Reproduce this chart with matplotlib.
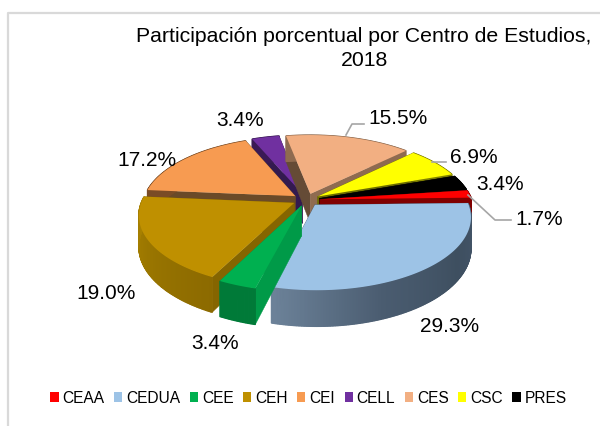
import numpy as np
import matplotlib
matplotlib.use("Agg")
import matplotlib.pyplot as plt
from matplotlib.patches import Patch
from matplotlib.colors import to_rgb

plt.rcParams['font.family'] = ['Liberation Sans', 'DejaVu Sans']

# ---- data ----
centros = ["CEAA", "CEDUA", "CEE", "CEH", "CEI", "CELL", "CES", "CSC", "PRES"]
participacion = [1.7, 29.3, 3.4, 19.0, 17.2, 3.4, 15.5, 6.9, 3.4]
titulo = "Participación porcentual por Centro de Estudios,\n2018"

# ---- styles ----
top_colors = ["#FF0000", "#9DC3E6", "#00B050", "#BF9000", "#F79B51",
              "#7030A0", "#F2AF82", "#FFFF00", "#000000"]
wall_stops = [["#800000", "#800000"],
              ["#45566A", "#3E4F60", "#4A5C70", "#6C8299"],
              ["#007A38", "#007A38"],
              ["#8C6A00", "#9A7600", "#A98200"],
              ["#7A4C26", "#7A4C26"],
              ["#3A1A55", "#3A1A55"],
              ["#8F6B50", "#8F6B50"],
              ["#808000", "#808000"],
              ["#000000", "#000000"]]
# face on the clockwise-start edge, face on the clockwise-end edge
face_colors = [("#800000", "#800000"), ("#45566A", "#45566A"), ("#009A48", "#009A48"),
               ("#856500", "#856500"), ("#6A4A28", "#6A4A28"), ("#331A4F", "#331A4F"),
               ("#654B36", "#8F6B50"), ("#6B6B00", "#6B6B00"), ("#000000", "#000000")]
label_pos = [(539, 220), (450, 327), (215, 344), (106, 294), (147, 161),
             (240, 121), (398, 119), (474, 158), (500, 185)]
leaders = [[(468, 196), (495, 221), (511, 221)],
           [(346, 136), (352, 125), (364, 125)],
           [(432, 163), (446, 163)]]

# projection constants (pixel-based axes)
CX, CY, A, B, H, K, EXPL, START = 306.3, 200.8, 152, 70, 30, 0.16, 0.09, 82.5


def proj(X, Y, z=0.0):
    X = np.asarray(X, float)
    Y = np.asarray(Y, float)
    s = 1.0 / (1.0 + K * Y)
    return CX + A * X * s, CY + (-B * Y + H * z) * s


def mix(stops, t):
    rgb = np.array([to_rgb(c) for c in stops])
    u = np.linspace(0, 1, len(stops))
    return tuple(np.interp(t, u, rgb[:, i]) for i in range(3))


fig = plt.figure(figsize=(6.0, 4.27), dpi=100)
ax = fig.add_axes([0, 0, 1, 1])
ax.set_xlim(0, 600)
ax.set_ylim(427, 0)
ax.axis("off")

# chart frame
ax.plot([8, 8, 600], [427, 13.5, 13.5], color="#D9D9D9", lw=1.6, solid_capstyle="butt")

# ---- exploded 3-D pie ----
vals = np.array(participacion)
edges = START + np.concatenate([[0], np.cumsum(vals)]) / vals.sum() * 360.0
slices = []
for i in range(len(vals)):
    a0, a1 = edges[i], edges[i + 1]
    m = np.radians((a0 + a1) / 2)
    slices.append((np.cos(m), i, a0, a1, m))

for cosm, i, a0, a1, m in sorted(slices, key=lambda t: -t[0]):
    ox, oy = EXPL * np.sin(m), EXPL * np.cos(m)
    th = np.radians(np.linspace(a0, a1, max(int(a1 - a0) * 2, 6)))
    X, Y = ox + np.sin(th), oy + np.cos(th)
    # radial faces
    for (ex, ey), col in zip(((X[0], Y[0]), (X[-1], Y[-1])), face_colors[i]):
        fx, fy = [ox, ex, ex, ox], [oy, ey, ey, oy]
        zz = [0, 0, 1, 1]
        px, py = zip(*[proj(a, b, c) for a, b, c in zip(fx, fy, zz)])
        ax.fill(px, py, color=col, lw=0.3, zorder=2)
    # outer wall
    for j in range(len(th) - 1):
        xs = [X[j], X[j + 1], X[j + 1], X[j]]
        ys = [Y[j], Y[j + 1], Y[j + 1], Y[j]]
        zz = [0, 0, 1, 1]
        px, py = zip(*[proj(a, b, c) for a, b, c in zip(xs, ys, zz)])
        ax.fill(px, py, color=mix(wall_stops[i], j / (len(th) - 2)), lw=0.9, zorder=2)
    # top
    px, py = proj(np.r_[ox, X], np.r_[oy, Y])
    ax.fill(px, py, color=top_colors[i], lw=0, zorder=2)

# ---- labels ----
for v, (x, y) in zip(participacion, label_pos):
    ax.text(x, y, f"{v:.1f}%", fontsize=15, ha="center", va="center", color="#000000", zorder=5)
for ln in leaders:
    xs, ys = zip(*ln)
    ax.plot(xs, ys, color="#A6A6A6", lw=1.2, zorder=4)

ax.text(364, 48.5, titulo, fontsize=15.3, ha="center", va="center", linespacing=1.3, color="#000000")

handles = [Patch(facecolor=c, edgecolor="none") for c in top_colors]
ax.legend(handles, centros, ncol=len(centros), loc="center", bbox_to_anchor=(308.5, 399),
          bbox_transform=ax.transData, frameon=False, fontsize=11.2, handlelength=0.52,
          handleheight=0.52, handletextpad=0.25, columnspacing=0.62, borderpad=0, borderaxespad=0)

fig.savefig("out.png", dpi=100)
